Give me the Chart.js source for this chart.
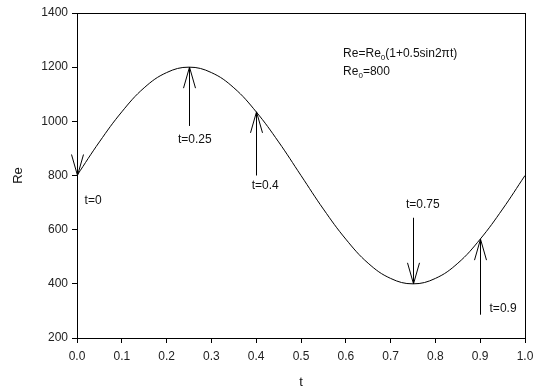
<!DOCTYPE html>
<html><head><meta charset="utf-8">
<script src="https://cdn.jsdelivr.net/npm/chart.js@4/dist/chart.umd.min.js"></script>
<style>html,body{margin:0;padding:0;background:#fff}#wrap{width:540px;height:392px}</style>
</head><body><div id="wrap"><canvas id="c" width="540" height="392"></canvas></div>
<script>
const tValues = [0,0.05,0.1,0.15,0.2,0.25,0.3,0.35,0.4,0.45,0.5,0.55,0.6,0.65,0.7,0.75,0.8,0.85,0.9,0.95,1.0];
const reValues = [800,924,1035,1124,1180,1200,1180,1124,1035,924,800,676,565,476,420,400,420,476,565,676,800];
const xTicks = [0,0.1,0.2,0.3,0.4,0.5,0.6,0.7,0.8,0.9,1.0];
const yTicks = [200,400,600,800,1000,1200,1400];
const arrowT = [0,0.25,0.4,0.75,0.9];
const arrowTip = [800,1200,1035,400,565];
const arrowTail = [1057,983,800,644,286];
const labelText = ['t=0','t=0.25','t=0.4','t=0.75','t=0.9'];
const labelX = [0.036,0.263,0.42,0.772,0.951];
const labelY = [706,931,762,692,308];

const FONT = '"Liberation Sans", Arial, sans-serif';

const overlay = {
  id: 'overlay',
  afterDraw(chart) {
    const ctx = chart.ctx, xs = chart.scales.x, ys = chart.scales.y, a = chart.chartArea;
    ctx.save();
    ctx.strokeStyle = '#000'; ctx.lineWidth = 1;
    ctx.strokeRect(a.left + 0.5, a.top + 0.5, a.right - a.left, a.bottom - a.top);
    // arrows
    for (let i = 0; i < arrowT.length; i++) {
      const x = Math.round(xs.getPixelForValue(arrowT[i])) + 0.5;
      const yTip = ys.getPixelForValue(arrowTip[i]);
      const yTail = ys.getPixelForValue(arrowTail[i]);
      const dir = yTail > yTip ? 1 : -1;
      ctx.beginPath();
      ctx.moveTo(x, yTail); ctx.lineTo(x, yTip);
      ctx.moveTo(x - 6, yTip + dir * 21); ctx.lineTo(x, yTip); ctx.lineTo(x + 6, yTip + dir * 21);
      ctx.stroke();
    }
    ctx.fillStyle = '#111';
    ctx.font = '12px ' + FONT;
    ctx.textAlign = 'center'; ctx.textBaseline = 'middle';
    for (let i = 0; i < labelText.length; i++) {
      ctx.fillText(labelText[i], xs.getPixelForValue(labelX[i]), ys.getPixelForValue(labelY[i]));
    }
    // formula
    ctx.textAlign = 'left';
    const fx = xs.getPixelForValue(0.594);
    let fy = ys.getPixelForValue(1249);
    const parts1 = [['Re=Re',0],['0',1],['(1+0.5sin2\u03c0t)',0]];
    const parts2 = [['Re',0],['0',1],['=800',0]];
    function drawParts(parts, x, y) {
      for (const [s, sub] of parts) {
        if (sub) { ctx.font = '8px ' + FONT; ctx.fillText(s, x, y + 4); }
        else { ctx.font = '12px ' + FONT; ctx.fillText(s, x, y); }
        x += ctx.measureText(s).width;
      }
    }
    drawParts(parts1, fx, fy);
    drawParts(parts2, fx, ys.getPixelForValue(1182));
    // axis titles
    ctx.font = '13px ' + FONT; ctx.textAlign = 'center';
    ctx.fillText('t', (a.left + a.right) / 2, 382);
    ctx.translate(18, ys.getPixelForValue(800));
    ctx.rotate(-Math.PI / 2);
    ctx.fillText('Re', 0, 0);
    ctx.restore();
  }
};

new Chart(document.getElementById('c'), {
  type: 'line',
  data: { datasets: [{ data: tValues.map((t, i) => ({ x: t, y: reValues[i] })), borderColor: '#000', borderWidth: 1, pointRadius: 0, tension: 0.4, fill: false }] },
  options: {
    responsive: false, animation: false,
    layout: { padding: { top: 13, right: 15, left: 0, bottom: 0 } },
    plugins: { legend: { display: false }, tooltip: { enabled: false } },
    scales: {
      x: {
        type: 'linear', min: 0, max: 1,
        afterBuildTicks: s => { s.ticks = xTicks.map(v => ({ value: v })); },
        afterFit: s => { s.height = 54; },
        grid: { drawOnChartArea: false, drawTicks: true, tickLength: 5, tickColor: '#000' },
        border: { display: true, color: '#000' },
        ticks: { color: '#222', font: { size: 12, family: FONT }, padding: 6, maxRotation: 0, callback: v => Number(v).toFixed(1) }
      },
      y: {
        type: 'linear', min: 200, max: 1400,
        afterBuildTicks: s => { s.ticks = yTicks.map(v => ({ value: v })); },
        afterFit: s => { s.width = 77; },
        grid: { drawOnChartArea: false, drawTicks: true, tickLength: 5, tickColor: '#000' },
        border: { display: true, color: '#000' },
        ticks: { color: '#222', font: { size: 12, family: FONT }, padding: 4, callback: v => String(v) }
      }
    }
  },
  plugins: [overlay]
});
</script></body></html>
